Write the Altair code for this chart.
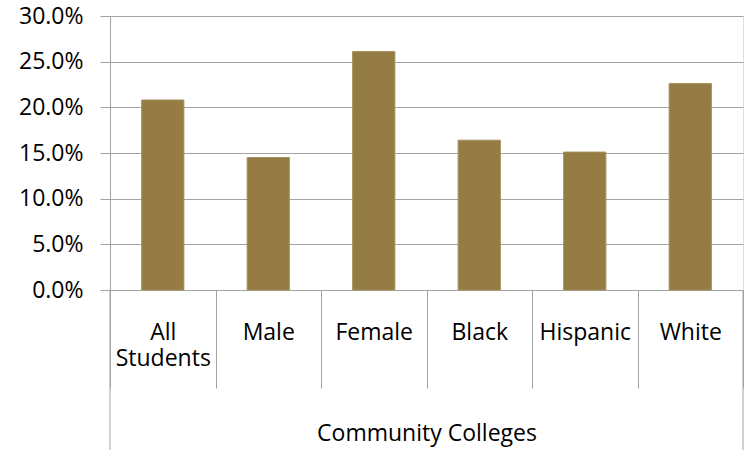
import altair as alt
import pandas as pd

categories = ["All Students", "Male", "Female", "Black", "Hispanic", "White"]
values = [0.208, 0.145, 0.261, 0.164, 0.151, 0.226]
group_label = "Community Colleges"
y_ticks = [0.0, 0.05, 0.10, 0.15, 0.20, 0.25, 0.30]

df = pd.DataFrame({"category": categories, "value": values})
left_edge = pd.DataFrame({"category": [categories[0]]})
right_edge = pd.DataFrame({"category": [categories[-1]]})

FONT = "Open Sans"
GREY = "#A3A3A3"
BAR = "#947C44"

x_scale = alt.Scale(domain=categories, paddingInner=0, paddingOuter=0)
y_scale = alt.Scale(domain=[0, 0.3], nice=False)

x_axis = alt.Axis(
    title=group_label, titleFont=FONT, titleFontSize=23, titleFontWeight="normal",
    titleColor="black", titleY=150, titleBaseline="alphabetic",
    labelAngle=0, labelFont=FONT, labelFontSize=23, labelColor="black",
    labelExpr="split(datum.label, ' ')", labelLineHeight=26, labelBaseline="top",
    labelPadding=-67, labelOverlap=False, labelLimit=0,
    ticks=True, tickBand="extent", tickSize=98, tickColor=GREY, tickWidth=1,
    domainColor=GREY, domainWidth=1, grid=False,
)
y_axis = alt.Axis(
    values=y_ticks, format=".1%", title=None,
    labelFont=FONT, labelFontSize=23, labelColor="black", labelPadding=17,
    tickSize=10, tickColor=GREY, domainColor=GREY, gridColor=GREY, grid=True,
)

bars = alt.Chart(df).mark_bar(
    width={"band": 0.4}, color=BAR, stroke="#A58E5C", strokeWidth=1
).encode(
    x=alt.X("category:N", scale=x_scale, sort=categories, axis=x_axis),
    y=alt.Y("value:Q", scale=y_scale, axis=y_axis),
)

left_rule = alt.Chart(left_edge).mark_rule(color=GREY, strokeWidth=1).encode(
    x=alt.X("category:N", scale=x_scale, sort=categories, bandPosition=0),
    y=alt.value(274), y2=alt.value(434),
)
right_rule = alt.Chart(right_edge).mark_rule(color=GREY, strokeWidth=1).encode(
    x=alt.X("category:N", scale=x_scale, sort=categories, bandPosition=1),
    y=alt.value(274), y2=alt.value(434),
)

chart = alt.layer(bars, left_rule, right_rule).properties(
    width=633, height=274,
    autosize=alt.AutoSizeParams(type="none"),
    padding={"left": 110, "top": 16, "right": 2, "bottom": 160},
    background="white",
).configure_view(stroke=None).configure(font=FONT)

chart.save("out.html", embed_options={"renderer": "svg", "actions": False})
